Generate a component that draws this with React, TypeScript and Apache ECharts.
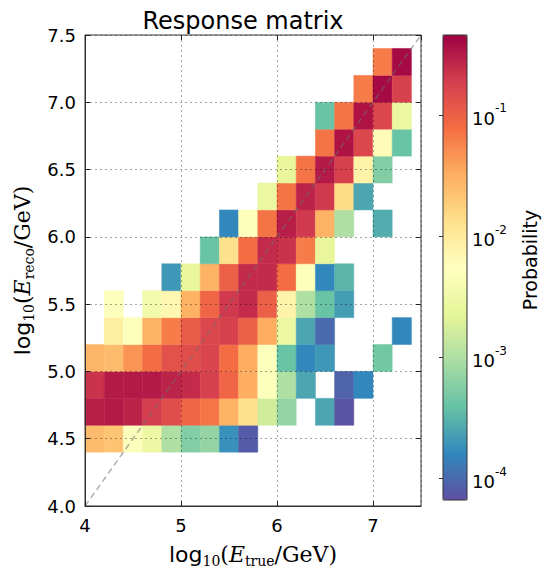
import React, { useEffect, useRef } from "react";
import * as echarts from "echarts";

// ---------- data ----------
const chartTitle = "Response matrix";
const colorbarLabel = "Probability";
const binWidth = 0.2;
// lower edges of the log10(E_true/GeV) bins
const xBinStarts = [4.0, 4.2, 4.4, 4.6, 4.8, 5.0, 5.2, 5.4, 5.6, 5.8, 6.0, 6.2, 6.4, 6.6, 6.8, 7.0, 7.2];
// lower edges of the log10(E_reco/GeV) bins (one row array below each)
const yBinStarts = [4.4, 4.6, 4.8, 5.0, 5.2, 5.4, 5.6, 5.8, 6.0, 6.2, 6.4, 6.6, 6.8, 7.0, 7.2];
const _ = null;
// probability per true-energy bin, one array per reco-energy bin
const reco_4_4 = [0.025, 0.022, 0.005, 0.003, 0.001, 5.6e-4, 7e-4, 1.8e-4, 8e-5, _, _, _, _, _, _, _, _];
const reco_4_6 = [0.3, 0.32, 0.28, 0.19, 0.14, 0.09, 0.07, 0.03, 0.013, 0.0016, 7e-4, _, 2.5e-4, 7e-5, _, _, _];
const reco_4_8 = [0.22, 0.32, 0.32, 0.32, 0.28, 0.25, 0.18, 0.09, 0.032, 0.005, 0.001, 2.5e-4, _, 9e-5, 1.6e-4, _, _];
const reco_5_0 = [0.028, 0.025, 0.045, 0.08, 0.13, 0.14, 0.17, 0.08, 0.032, 0.005, 4e-4, 1.6e-4, 2e-4, _, _, 4.5e-4, _];
const reco_5_2 = [_, 0.009, 0.005, 0.03, 0.063, 0.11, 0.16, 0.18, 0.1, 0.032, 0.0028, 2.5e-4, 1e-4, _, _, _, 1.6e-4];
const reco_5_4 = [_, 0.005, _, 0.0035, 0.007, 0.03, 0.09, 0.2, 0.25, 0.1, 0.008, 0.001, 4e-4, 2.2e-4, _, _, _];
const reco_5_6 = [_, _, _, _, 2e-4, 0.0025, 0.03, 0.1, 0.25, 0.25, 0.08, 0.005, 1.6e-4, 3.2e-4, _, _, _];
const reco_5_8 = [_, _, _, _, _, _, 4e-4, 0.013, 0.08, 0.25, 0.22, 0.063, 0.0025, _, _, _, _];
const reco_6_0 = [_, _, _, _, _, _, _, 1.6e-4, 0.005, 0.071, 0.3, 0.2, 0.03, 0.001, _, 2.8e-4, _];
const reco_6_2 = [_, _, _, _, _, _, _, _, _, 0.0028, 0.071, 0.28, 0.2, 0.014, 2.5e-4, _, _];
const reco_6_4 = [_, _, _, _, _, _, _, _, _, _, 0.0025, 0.071, 0.32, 0.18, 0.008, 5.6e-4, _];
const reco_6_6 = [_, _, _, _, _, _, _, _, _, _, _, _, 0.071, 0.35, 0.16, 0.006, 4e-4];
const reco_6_8 = [_, _, _, _, _, _, _, _, _, _, _, _, 4e-4, 0.071, 0.35, 0.16, 0.0028];
const reco_7_0 = [_, _, _, _, _, _, _, _, _, _, _, _, _, _, 0.063, 0.4, 0.18];
const reco_7_2 = [_, _, _, _, _, _, _, _, _, _, _, _, _, _, _, 0.063, 0.4];
const recoRows = [reco_4_4, reco_4_6, reco_4_8, reco_5_0, reco_5_2, reco_5_4, reco_5_6, reco_5_8, reco_6_0, reco_6_2, reco_6_4, reco_6_6, reco_6_8, reco_7_0, reco_7_2];

const axisMin = 4.0;
const axisMax = 7.5;
const xTickStep = 1;
const yTickStep = 0.5;
const diagonal = [[axisMin, axisMin], [axisMax, axisMax]];
// colour scale: log10(probability)
const colorLogMin = -4.18;
const colorLogMax = -0.34;
const colorbarTickExponents = [-4, -3, -2, -1];
const spectralR = ["#5e4fa2", "#3288bd", "#66c2a5", "#abdda4", "#e6f598", "#ffffbf", "#fee08b", "#fdae61", "#f46d43", "#d53e4f", "#9e0142"];

const SANS = "DejaVu Sans";
const SERIF = "DejaVu Serif";

function buildCells() {
  const cells: any[] = [];
  recoRows.forEach((row, j) => {
    row.forEach((p, i) => {
      if (p !== null) cells.push([xBinStarts[i], yBinStarts[j], Math.log10(p as number), p]);
    });
  });
  return cells;
}

const mathRich = {
  a: { fontFamily: SANS, fontSize: 22, lineHeight: 28, verticalAlign: "middle", color: "#000" },
  s: { fontFamily: SERIF, fontSize: 14, lineHeight: 15, verticalAlign: "bottom", color: "#000" },
  m: { fontFamily: SERIF, fontSize: 22, lineHeight: 28, verticalAlign: "middle", color: "#000" },
  e: { fontFamily: SERIF, fontStyle: "italic", fontSize: 22, lineHeight: 28, verticalAlign: "middle", color: "#000" },
};

export default function App() {
  const ref = useRef<HTMLDivElement>(null);
  useEffect(() => {
    document.body.style.margin = "0";
    if (!ref.current) return;
    const chart = echarts.init(ref.current, undefined, { renderer: "svg" });
    const gridLine = { show: true, lineStyle: { color: "rgba(0,0,0,0.35)", type: [2, 3], width: 1 } };
    const tickStyle = { show: true, inside: true, length: 5, lineStyle: { color: "#222" } };
    chart.setOption({
      animation: false,
      backgroundColor: "#fff",
      textStyle: { fontFamily: SANS },
      grid: [
        { left: 85, top: 35, width: 336, height: 481, show: true, borderColor: "#333", borderWidth: 1, backgroundColor: "#fff" },
        { left: 443, top: 35, width: 24, height: 465 },
      ],
      xAxis: [
        {
          type: "value", gridIndex: 0, min: axisMin, max: axisMax, interval: xTickStep, z: 10,
          axisLine: { show: true, lineStyle: { color: "#333" } },
          axisTick: tickStyle, splitLine: gridLine,
          axisLabel: { fontSize: 18, color: "#000", margin: 10, fontFamily: SANS, showMaxLabel: false, formatter: (v: number) => String(v) },
          name: "{a|log}{s|10}{m|(}{e|E}{s|true}{m|/GeV)}",
          nameLocation: "middle", nameGap: 34,
          nameTextStyle: { rich: mathRich },
        },
        { type: "value", gridIndex: 1, min: 0, max: 1, show: false },
        {
          type: "value", gridIndex: 0, position: "top", min: axisMin, max: axisMax, interval: xTickStep, z: 10,
          axisLine: { show: false }, axisTick: tickStyle, axisLabel: { show: false }, splitLine: { show: false },
        },
      ],
      yAxis: [
        {
          type: "value", gridIndex: 0, min: axisMin, max: axisMax, interval: yTickStep, z: 10,
          axisLine: { show: true, lineStyle: { color: "#333" } },
          axisTick: tickStyle, splitLine: gridLine,
          axisLabel: { fontSize: 18, color: "#000", margin: 9, fontFamily: SANS, formatter: (v: number) => v.toFixed(1) },
          name: "{a|log}{s|10}{m|(}{e|E}{s|reco}{m|/GeV)}",
          nameLocation: "middle", nameGap: 47, nameRotate: 90,
          nameTextStyle: { rich: mathRich },
        },
        {
          type: "value", gridIndex: 1, position: "right", min: colorLogMin, max: colorLogMax, z: 10,
          axisLine: { show: false }, splitLine: { show: false },
          axisTick: { show: true, inside: true, length: 4, customValues: colorbarTickExponents, lineStyle: { color: "#333" } },
          axisLabel: {
            margin: 5,
            customValues: colorbarTickExponents,
            formatter: (v: number) => `{b|10}{t|${Math.round(v)}}`,
            rich: {
              b: { fontFamily: SANS, fontSize: 18, lineHeight: 25, verticalAlign: "bottom", color: "#000" },
              t: { fontFamily: SANS, fontSize: 12, lineHeight: 14, verticalAlign: "top", color: "#000" },
            },
          },
        },
        {
          type: "value", gridIndex: 0, position: "right", min: axisMin, max: axisMax, interval: yTickStep, z: 10,
          axisLine: { show: false }, axisTick: tickStyle, axisLabel: { show: false }, splitLine: { show: false },
        },
      ],
      visualMap: {
        type: "continuous",
        min: colorLogMin, max: colorLogMax,
        dimension: 2, seriesIndex: 0,
        calculable: false, hoverLink: false,
        left: 443, top: 35, itemWidth: 24, itemHeight: 465, padding: 0,
        inRange: { color: spectralR },
        text: null,
      },
      series: [
        {
          type: "custom",
          xAxisIndex: 0, yAxisIndex: 0,
          data: buildCells(),
          encode: { x: 0, y: 1 },
          z: 2,
          renderItem: (params: any, api: any) => {
            const x0 = api.value(0);
            const y0 = api.value(1);
            const p0 = api.coord([x0, y0]);
            const p1 = api.coord([x0 + binWidth, y0 + binWidth]);
            const color = api.visual("color");
            return {
              type: "rect",
              shape: { x: p0[0], y: p1[1], width: p1[0] - p0[0], height: p0[1] - p1[1] },
              style: { fill: color, stroke: color, lineWidth: 0.5 },
            };
          },
        },
        {
          type: "line",
          xAxisIndex: 0, yAxisIndex: 0,
          data: diagonal,
          symbol: "none",
          z: 5,
          lineStyle: { color: "rgba(110,110,110,0.55)", width: 1.5, type: [6, 4] },
        },
      ],
      graphic: [
        {
          type: "text", x: 243, y: 21, z: 100,
          style: { text: chartTitle, fontFamily: SANS, fontSize: 24, fill: "#000", align: "center", verticalAlign: "middle" },
        },
        {
          type: "text", x: 530, y: 260, rotation: Math.PI / 2, z: 100,
          style: { text: colorbarLabel, fontFamily: SANS, fontSize: 19, fill: "#000", align: "center", verticalAlign: "middle" },
        },
        {
          type: "rect", z: 100,
          shape: { x: 443, y: 35, width: 24, height: 465 },
          style: { fill: "none", stroke: "#333", lineWidth: 1 },
        },
      ],
    });
    return () => chart.dispose();
  }, []);
  return <div ref={ref} style={{ width: 543, height: 573 }} />;
}
